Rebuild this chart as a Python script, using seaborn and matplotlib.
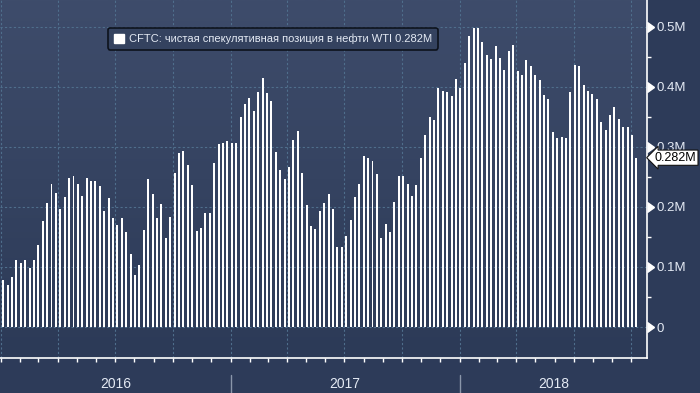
import numpy as np
import pandas as pd
import matplotlib
matplotlib.use("Agg")
import matplotlib.pyplot as plt
import matplotlib.dates as mdates
import matplotlib.transforms as mtransforms
from matplotlib.patches import Patch
from matplotlib.colors import LinearSegmentedColormap
import seaborn as sns

# --- data: CFTC net speculative position in WTI, millions of contracts (weekly) ---
start_date = "2016-01-05"
net_position = [
    0.079, 0.070, 0.084, 0.112, 0.107, 0.112, 0.099, 0.112, 0.137, 0.177,
    0.207, 0.239, 0.224, 0.197, 0.217, 0.248, 0.252, 0.239, 0.218, 0.248,
    0.243, 0.243, 0.235, 0.194, 0.215, 0.182, 0.170, 0.182, 0.159, 0.122,
    0.087, 0.104, 0.162, 0.247, 0.222, 0.182, 0.205, 0.149, 0.184, 0.257,
    0.290, 0.293, 0.270, 0.237, 0.160, 0.165, 0.190, 0.190, 0.273,
    0.304, 0.307, 0.309, 0.306, 0.307, 0.350, 0.372, 0.382, 0.360, 0.392, 0.415,
    0.389, 0.377, 0.291, 0.262, 0.246, 0.267, 0.311, 0.326, 0.256, 0.204,
    0.169, 0.163, 0.194, 0.207, 0.222, 0.196, 0.134, 0.134, 0.151, 0.179,
    0.216, 0.239, 0.284, 0.281, 0.276, 0.254, 0.148, 0.171, 0.158, 0.209,
    0.252, 0.251, 0.239, 0.219, 0.236, 0.282, 0.319, 0.350, 0.345,
    0.398, 0.393, 0.391, 0.385, 0.413, 0.398, 0.440, 0.485, 0.498, 0.498, 0.475,
    0.453, 0.446, 0.468, 0.448, 0.428, 0.460, 0.470, 0.427, 0.420, 0.445,
    0.435, 0.420, 0.412, 0.387, 0.379, 0.325, 0.315, 0.317, 0.315, 0.392,
    0.436, 0.435, 0.403, 0.393, 0.388, 0.380, 0.342, 0.328, 0.353, 0.367,
    0.347, 0.333, 0.333, 0.320, 0.282,
]
y_ticks = [0, 0.1, 0.2, 0.3, 0.4, 0.5]
y_tick_labels = ["0", "0.1M", "0.2M", "0.3M", "0.4M", "0.5M"]
years = [2016, 2017, 2018]
legend_text = "CFTC: чистая спекулятивная позиция в нефти WTI"

BG = "#2d3b59"
GRID = "#4f6e8c"
TXT = "#e4eaf4"

sns.set_style("dark")
plt.rcParams['font.family'] = ['Liberation Sans', 'DejaVu Sans']

dates = pd.date_range(start_date, periods=len(net_position), freq="W-TUE")
df = pd.DataFrame({"x": mdates.date2num(dates), "value": net_position})

fig = plt.figure(figsize=(7, 3.93), dpi=100, facecolor=BG)
ax = fig.add_axes([0, 35 / 393, 647 / 700, 358 / 393])

# gradient background
cmap = LinearSegmentedColormap.from_list("bg", ["#2c3a57", "#3e4c6b"])
grad = np.linspace(0, 1, 256).reshape(-1, 1)
ax.imshow(grad, extent=[0, 1, 0, 1], transform=ax.transAxes, aspect="auto",
          cmap=cmap, origin="lower", zorder=0)

sns.barplot(data=df, x="x", y="value", native_scale=True, width=0.45,
            color="white", saturation=1, errorbar=None, linewidth=0, ax=ax, zorder=3)

ax.set_xlim(mdates.date2num(pd.Timestamp("2015-12-31 00:00")),
            mdates.date2num(pd.Timestamp("2018-10-26")))
ax.set_ylim(-0.0516, 0.5446)
ax.set_xlabel("")
ax.set_ylabel("")

# x axis: monthly ticks, quarterly grid
ax.xaxis.set_major_locator(mdates.MonthLocator(bymonth=[1, 4, 7, 10]))
ax.xaxis.set_minor_locator(mdates.MonthLocator())
ax.tick_params(axis="x", which="both", direction="out", length=2.6, width=1,
               color="white", labelbottom=False, bottom=True)
ax.grid(axis="x", which="major", color=GRID, linestyle=(0, (2, 2)), linewidth=0.8)

# y axis on the right
ax.yaxis.tick_right()
ax.set_yticks(y_ticks)
ax.set_yticklabels(y_tick_labels)
ax.yaxis.set_minor_locator(matplotlib.ticker.FixedLocator(np.arange(0.05, 0.55, 0.1)))
ax.tick_params(axis="y", which="major", length=0, pad=7, labelsize=9.5, labelcolor=TXT)
ax.tick_params(axis="y", which="minor", direction="out", length=3, width=1, color="white")
ax.grid(axis="y", which="major", color=GRID, linestyle=(0, (2, 2)), linewidth=0.8)

ytrans = mtransforms.blended_transform_factory(ax.transAxes, ax.transData)
ax.plot([1.0] * len(y_ticks), y_ticks, linestyle="none", marker=9, ms=7,
        color="white", transform=ytrans, clip_on=False, zorder=5)

for side in ["left", "top"]:
    ax.spines[side].set_visible(False)
for side in ["right", "bottom"]:
    ax.spines[side].set_visible(True)
    ax.spines[side].set_color("white")
    ax.spines[side].set_linewidth(1.2)

# year labels and separators
xtrans = mtransforms.blended_transform_factory(ax.transData, ax.transAxes)
x_lo, x_hi = ax.get_xlim()
for yr in years:
    a = max(mdates.date2num(pd.Timestamp(f"{yr}-01-01")), x_lo)
    b = min(mdates.date2num(pd.Timestamp(f"{yr + 1}-01-01")), x_hi)
    ax.text((a + b) / 2, -0.073, str(yr), transform=xtrans, ha="center", va="center",
            fontsize=10, color=TXT)
    if yr > years[0]:
        ax.plot([a, a], [-0.0475, -0.1], color="#8a96aa", lw=1,
                transform=xtrans, clip_on=False)

# last value tag
last = net_position[-1]
ax.text(1.012, last, f"{last:.3f}M", transform=ytrans, ha="left", va="center",
        fontsize=9, color="black", zorder=6, clip_on=False,
        bbox=dict(boxstyle="larrow,pad=0.13", fc="white", ec="#111111", lw=0.8))

# legend
handle = Patch(facecolor="white", edgecolor="white")
leg = ax.legend([handle], [f"{legend_text} {last:.3f}M"], loc="upper left",
                bbox_to_anchor=(0.167, 0.922), borderaxespad=0, fontsize=8,
                handlelength=0.9, handleheight=0.9, handletextpad=0.5,
                borderpad=0.5, fancybox=True, framealpha=1,
                facecolor="#34425f", edgecolor="#0d121c", labelcolor=TXT)
leg.get_frame().set_linewidth(1.2)
leg.set_zorder(7)

fig.savefig("out.png", dpi=100, facecolor=BG)
